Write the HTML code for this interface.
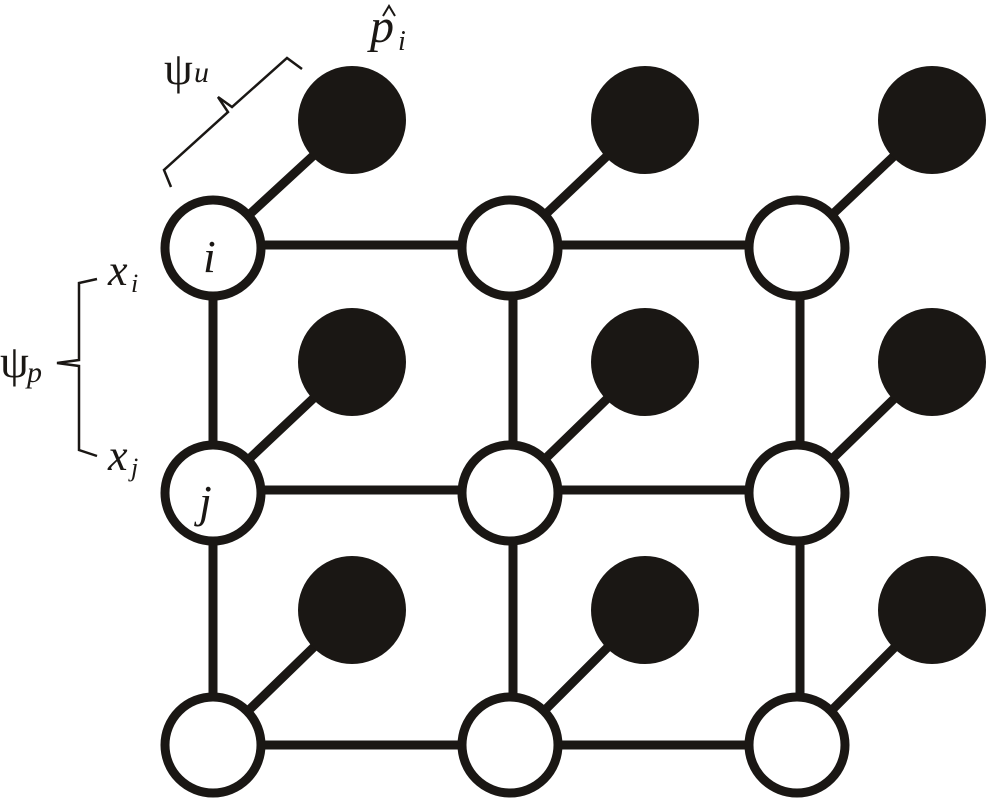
<!DOCTYPE html>
<html><head><style>html,body{margin:0;padding:0;background:#fff}svg{display:block}
.t{font-family:"Liberation Serif",serif;font-style:italic;fill:#1a1714}
.n{font-style:normal}</style></head>
<body>
<svg width="1000" height="808" viewBox="0 0 1000 808" xmlns="http://www.w3.org/2000/svg">
<g stroke="#1a1714" stroke-width="9" fill="none">
<line x1="213" y1="245" x2="797" y2="245"/>
<line x1="213" y1="490" x2="797" y2="490"/>
<line x1="213" y1="745" x2="797" y2="745"/>
<line x1="213" y1="248" x2="213" y2="745"/>
<line x1="513" y1="248" x2="513" y2="745"/>
<line x1="800" y1="248" x2="800" y2="745"/>
<line x1="213" y1="248" x2="352" y2="120"/>
<line x1="510" y1="248" x2="645" y2="120"/>
<line x1="797" y1="248" x2="932" y2="120"/>
<line x1="213" y1="493" x2="352" y2="362"/>
<line x1="510" y1="493" x2="645" y2="362"/>
<line x1="797" y1="493" x2="932" y2="362"/>
<line x1="213" y1="745" x2="352" y2="610"/>
<line x1="510" y1="745" x2="645" y2="610"/>
<line x1="797" y1="745" x2="932" y2="610"/>
</g>
<g fill="#1a1714">
<circle cx="352" cy="120" r="54"/><circle cx="645" cy="120" r="54"/><circle cx="932" cy="120" r="54"/>
<circle cx="352" cy="362" r="54"/><circle cx="645" cy="362" r="54"/><circle cx="932" cy="362" r="54"/>
<circle cx="352" cy="610" r="54"/><circle cx="645" cy="610" r="54"/><circle cx="932" cy="610" r="54"/>
</g>
<g fill="#fff" stroke="#1a1714" stroke-width="9">
<circle cx="213" cy="248" r="48"/><circle cx="510" cy="248" r="48"/><circle cx="797" cy="248" r="48"/>
<circle cx="213" cy="493" r="48"/><circle cx="510" cy="493" r="48"/><circle cx="797" cy="493" r="48"/>
<circle cx="213" cy="745" r="48"/><circle cx="510" cy="745" r="48"/><circle cx="797" cy="745" r="48"/>
</g>
<g stroke="#1a1714" stroke-width="2.5" fill="none">
<polyline points="171,187 164,170 228,112 218,97 232,107 287,58 302,69"/>
<polyline points="97,279 79,283 79,360 57,363 79,366 79,450 97,456"/>
<polyline points="383,16 389,6 395,16" stroke-width="2"/>
</g>
<text class="t" x="203" y="272" font-size="46">i</text>
<text class="t" x="199" y="517" font-size="46">j</text>
<text class="t" x="108" y="285" font-size="44">x</text><text class="t" x="131" y="292" font-size="26">i</text>
<text class="t" x="108" y="470" font-size="44">x</text><text class="t" x="131" y="476" font-size="26">j</text>
<text class="t" x="370" y="42" font-size="48">p</text><text class="t" x="398" y="50" font-size="28">i</text>
<text class="t n" x="164" y="84" font-size="46">ψ</text><text class="t" x="194" y="82" font-size="30">u</text>
<text class="t n" x="0" y="377" font-size="46">ψ</text><text class="t" x="27" y="382" font-size="30">p</text>
</svg>
</body></html>
